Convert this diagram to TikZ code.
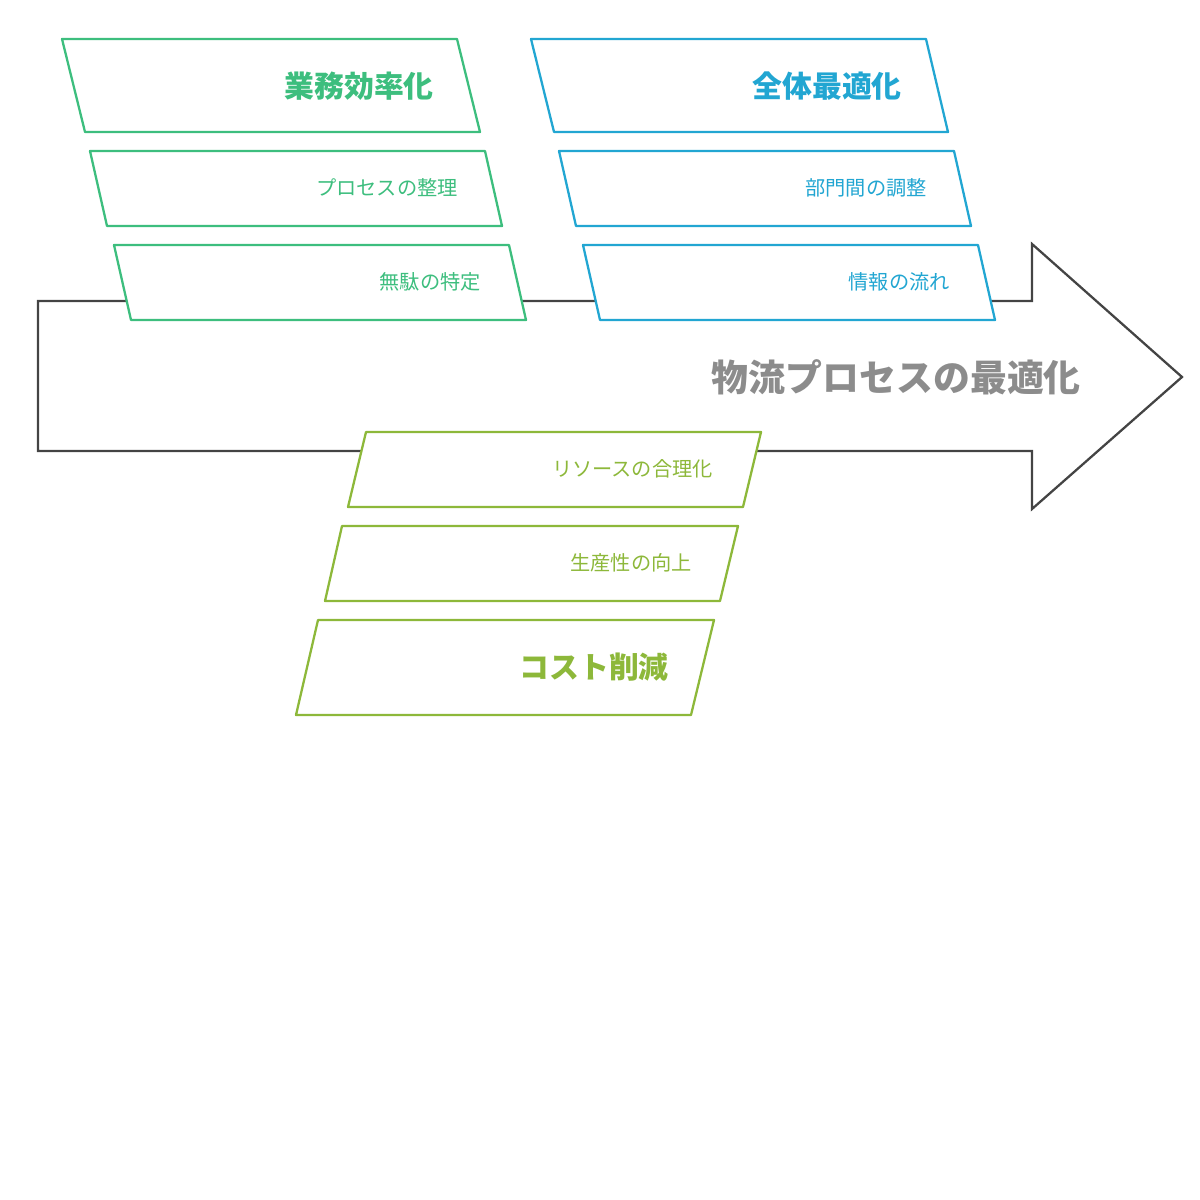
\documentclass[tikz,border=0pt]{standalone}
\usepackage{fontspec}
\setmainfont{Noto Sans CJK JP}
\usetikzlibrary{positioning}
\definecolor{cgreen}{HTML}{3DBE7E}
\definecolor{cblue}{HTML}{22A6D2}
\definecolor{colive}{HTML}{8DB83A}
\definecolor{cgray}{HTML}{8C8C8C}
\definecolor{cline}{HTML}{444444}
\tikzset{
	x=0.02cm, y=-0.02cm,
	box/.style = {line width=1.3pt, fill=white, line join=round},
	big/.style = {anchor=east, font=\bfseries\fontsize{17}{19}\selectfont},
	small/.style = {anchor=east, font=\fontsize{11.5}{13}\selectfont}
}
% parallelogram: top y, bottom y, top left x, top right x, bottom left x, bottom right x
\newcommand{\plate}[7]{\draw[box,draw=#1] (#4,#2) -- (#5,#2) -- (#7,#3) -- (#6,#3) -- cycle;}

\begin{document}
\begin{tikzpicture}
    \useasboundingbox (0,0) rectangle (1200,1200);

    % main arrow
    \draw[line width=1.3pt, cline, line join=miter] (38,301) -- (1032,301) -- (1032,244) -- (1182,377)
        -- (1032,509) -- (1032,451) -- (38,451) -- cycle;
    \node[big, cgray, font=\bfseries\fontsize{21}{24}\selectfont] (goal) at (1087,377) {物流プロセスの最適化};

    % efficiency
    \plate{cgreen}{39}{132}{62}{457}{85}{480}
    \node[big, cgreen] (eff) at (440,86) {業務効率化};
    \plate{cgreen}{151}{226}{90}{485}{107}{502}
    \node[small, cgreen] (proc) at (464,188) {プロセスの整理};
    \plate{cgreen}{245}{320}{114}{509}{131}{526}
    \node[small, cgreen] (waste) at (487,282) {無駄の特定};

    % global optimum
    \plate{cblue}{39}{132}{531}{926}{554}{948}
    \node[big, cblue] (glob) at (908,86) {全体最適化};
    \plate{cblue}{151}{226}{559}{954}{576}{971}
    \node[small, cblue] (dept) at (933,188) {部門間の調整};
    \plate{cblue}{245}{320}{583}{978}{600}{995}
    \node[small, cblue] (info) at (956,282) {情報の流れ};

    % cost
    \plate{colive}{432}{507}{366}{761}{348}{743}
    \node[small, colive] (res) at (719,469) {リソースの合理化};
    \plate{colive}{526}{601}{342}{738}{325}{720}
    \node[small, colive] (prod) at (698,563) {生産性の向上};
    \plate{colive}{620}{715}{318}{714}{296}{691}
    \node[big, colive] (cost) at (675,667) {コスト削減};

\end{tikzpicture}
\end{document}
